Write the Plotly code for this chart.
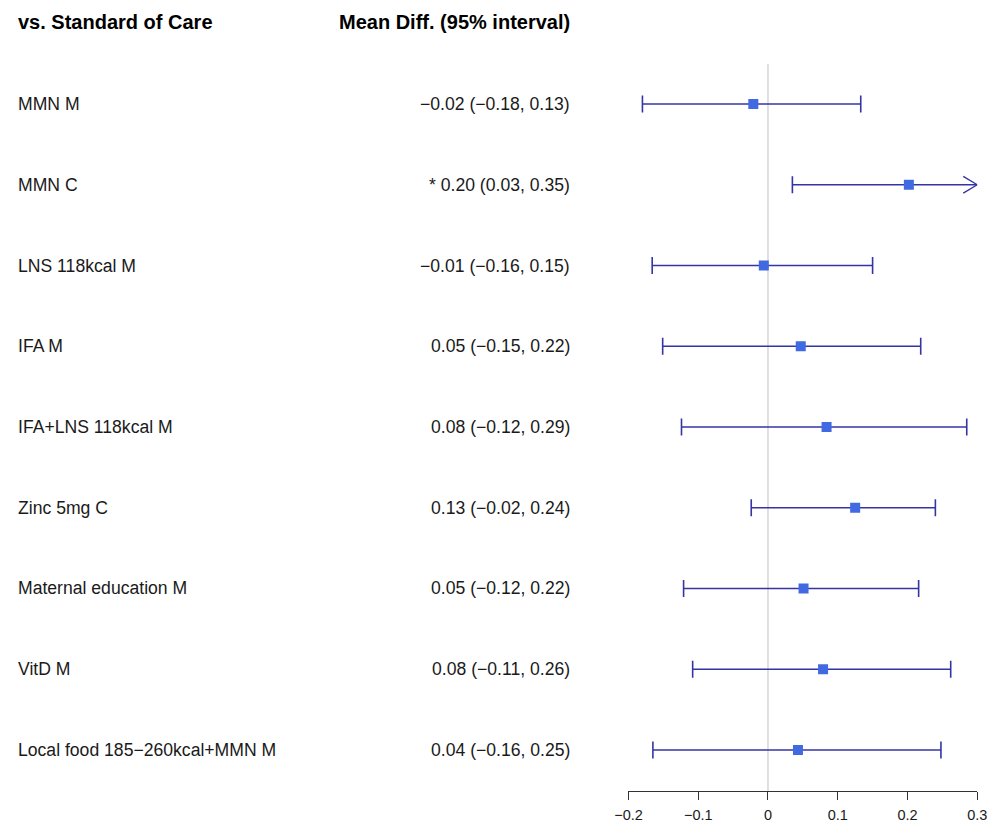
import plotly.graph_objects as go

labels = ["MMN M", "MMN C", "LNS 118kcal M", "IFA M", "IFA+LNS 118kcal M",
          "Zinc 5mg C", "Maternal education M", "VitD M", "Local food 185\u2212260kcal+MMN M"]
means = [-0.021, 0.202, -0.006, 0.047, 0.084, 0.125, 0.051, 0.079, 0.043]
lowers = [-0.180, 0.035, -0.166, -0.151, -0.124, -0.024, -0.121, -0.108, -0.165]
uppers = [0.133, 0.350, 0.150, 0.219, 0.285, 0.240, 0.216, 0.262, 0.248]
ci_text = ["\u22120.02 (\u22120.18, 0.13)", "* 0.20 (0.03, 0.35)", "\u22120.01 (\u22120.16, 0.15)",
           "0.05 (\u22120.15, 0.22)", "0.08 (\u22120.12, 0.29)", "0.13 (\u22120.02, 0.24)",
           "0.05 (\u22120.12, 0.22)", "0.08 (\u22120.11, 0.26)", "0.04 (\u22120.16, 0.25)"]
tick_vals = [-0.2, -0.1, 0, 0.1, 0.2, 0.3]
tick_text = ["\u22120.2", "\u22120.1", "0", "0.1", "0.2", "0.3"]
header_left = "vs. Standard of Care"
header_right = "Mean Diff. (95% interval)"

xmin, xmax = -0.2, 0.3
ymin, ymax = -8.508, 1.189
ys = [-i for i in range(len(labels))]
line_col = "#3434A4"
font_fam = "Liberation Sans, Arial, sans-serif"

fig = go.Figure()

# zero reference line
fig.add_shape(type="line", x0=0, x1=0, y0=ymin, y1=0.495, xref="x", yref="y",
              line=dict(color="#d6d6d6", width=1.5), layer="below")

hx, hy, cx, cy = [], [], [], []
ax, ay = [], []
cap = 0.105
for y, lo, hi in zip(ys, lowers, uppers):
    lo_c = max(lo, xmin)
    hi_c = min(hi, xmax)
    hx += [lo_c, hi_c, None]
    hy += [y, y, None]
    if lo >= xmin:
        cx += [lo, lo, None]; cy += [y - cap, y + cap, None]
    if hi <= xmax:
        cx += [hi, hi, None]; cy += [y - cap, y + cap, None]
    else:
        ax += [xmax - 0.02, xmax, xmax - 0.02, None]
        ay += [y + 0.103, y, y - 0.103, None]

fig.add_trace(go.Scatter(x=hx, y=hy, mode="lines", line=dict(color=line_col, width=1.4),
                         hoverinfo="skip", showlegend=False))
fig.add_trace(go.Scatter(x=cx, y=cy, mode="lines", line=dict(color=line_col, width=1.6),
                         hoverinfo="skip", showlegend=False))
fig.add_trace(go.Scatter(x=ax, y=ay, mode="lines", line=dict(color=line_col, width=1.4),
                         hoverinfo="skip", showlegend=False))
fig.add_trace(go.Scatter(x=means, y=ys, mode="markers",
                         marker=dict(symbol="square", size=10, color="#4169E1", line=dict(width=0)),
                         showlegend=False))

left_x = -0.0057
right_x = 0.5638
annotations = []
for y, lab, ct in zip(ys, labels, ci_text):
    annotations.append(dict(x=left_x, y=y, xref="paper", yref="y", text=lab, showarrow=False,
                            xanchor="left", yanchor="middle",
                            font=dict(size=17.6, color="#1a1a1a", family=font_fam)))
    annotations.append(dict(x=right_x, y=y, xref="paper", yref="y", text=ct, showarrow=False,
                            xanchor="right", yanchor="middle",
                            font=dict(size=17.6, color="#1a1a1a", family=font_fam)))
annotations.append(dict(x=left_x, y=1.0, xref="paper", yref="paper", yshift=-14, text="<b>" + header_left + "</b>",
                        showarrow=False, xanchor="left", yanchor="middle",
                        font=dict(size=20, color="#000000", family=font_fam)))
annotations.append(dict(x=right_x, y=1.0, xref="paper", yref="paper", yshift=-14, text="<b>" + header_right + "</b>",
                        showarrow=False, xanchor="right", yanchor="middle",
                        font=dict(size=20, color="#000000", family=font_fam)))

fig.update_layout(
    width=1000, height=833,
    margin=dict(l=0, r=0, t=0, b=50),
    paper_bgcolor="white", plot_bgcolor="white",
    annotations=annotations,
    font=dict(family=font_fam),
    xaxis=dict(domain=[0.6214, 0.9787], range=[xmin, xmax], showgrid=False, zeroline=False,
               showline=True, linecolor="#333333", linewidth=1,
               ticks="outside", ticklen=8, tickcolor="#333333", tickwidth=1,
               ticklabelstandoff=3,
               tickvals=tick_vals, ticktext=tick_text,
               tickfont=dict(size=14.5, color="#1a1a1a", family=font_fam)),
    yaxis=dict(range=[ymin, ymax], visible=False, showgrid=False, zeroline=False),
)

fig.write_html("out.html")
